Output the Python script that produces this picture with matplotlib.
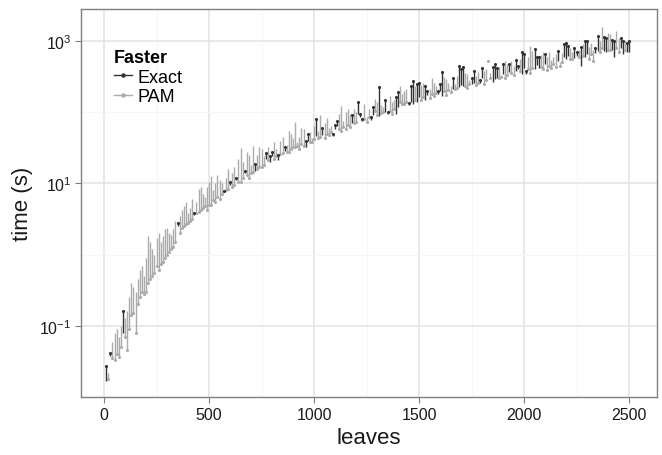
import matplotlib
matplotlib.use("Agg")
import matplotlib.pyplot as plt
import numpy as np
from matplotlib.lines import Line2D
from matplotlib.ticker import FixedLocator, NullFormatter, LogFormatterMathtext

plt.rcParams['font.family'] = ['Liberation Sans', 'DejaVu Sans']
plt.rcParams['mathtext.fontset'] = 'custom'
plt.rcParams['mathtext.rm'] = 'Liberation Sans'

# --- runs at odd multiples of ten leaves ---
leaves_a = [10, 30, 50, 70, 90, 110, 130, 150, 170, 190, 210, 230, 250, 270, 290, 310, 330, 350, 370, 390,
            410, 430, 450, 470, 490, 510, 530, 550, 570, 590, 610, 630, 650, 670, 690, 710, 730, 750, 770, 790,
            810, 830, 850, 870, 890, 910, 930, 950, 970, 990, 1010, 1030, 1050, 1070, 1090, 1110, 1130, 1150, 1170, 1190,
            1210, 1230, 1250, 1270, 1290, 1310, 1330, 1350, 1370, 1390, 1410, 1430, 1450, 1470, 1490, 1510, 1530, 1550, 1570, 1590,
            1610, 1630, 1650, 1670, 1690, 1710, 1730, 1750, 1770, 1790, 1810, 1830, 1850, 1870, 1890, 1910, 1930, 1950, 1970, 1990,
            2010, 2030, 2050, 2070, 2090, 2110, 2130, 2150, 2170, 2190, 2210, 2230, 2250, 2270, 2290, 2310, 2330, 2350, 2370, 2390,
            2410, 2430, 2450, 2470, 2490]

exact_a = [0.017, 0.038, 0.08, 0.07, 0.078, 0.16, 0.4, 0.3, 0.6, 0.5, 1.8, 1.2, 1.7, 1.5, 2.3, 2.0, 2.3, 2.5, 4.2, 5.5,
           4.5, 3.6, 8.3, 7.0, 9.0, 12.6, 10.0, 11.0, 7.5, 16, 14, 11, 31, 14, 25, 34, 25, 30, 22, 20,
           38, 21, 45, 35, 50, 72, 45, 59, 40, 44, 47, 90, 70, 60, 46, 65, 123, 100, 95, 110,
           95, 75, 85, 78, 155, 88, 120, 95, 140, 95, 235, 200, 125, 130, 140, 240, 150, 210, 260, 180,
           170, 290, 230, 250, 226, 230, 340, 250, 320, 260, 380, 540, 265, 300, 330, 525, 367, 450, 400, 345,
           345, 850, 405, 420, 700, 600, 550, 650, 500, 600, 620, 700, 620, 445, 600, 820, 750, 725, 1570, 700,
           1250, 600, 1100, 650, 700]

pam_a = [0.027, 0.042, 0.033, 0.036, 0.16, 0.045, 0.14, 0.08, 0.25, 0.28, 0.4, 0.5, 0.7, 0.75, 0.9, 1.1, 1.3, 2.8, 2.4, 2.7,
         3.0, 3.9, 4.0, 4.5, 4.2, 5.0, 5.5, 6.0, 7.9, 8.3, 9.0, 12, 10.5, 15, 12, 14.5, 16, 17, 27, 24,
         22, 25, 27, 28, 30, 32, 30, 34, 50, 38, 81, 45, 44, 48, 50, 75, 55, 58, 62, 70,
         138, 80, 72, 85, 105, 224, 100, 100, 95, 165, 138, 130, 135, 275, 250, 150, 230, 160, 170, 200,
         370, 175, 190, 210, 445, 430, 220, 300, 240, 280, 250, 525, 430, 420, 310, 300, 475, 330, 440, 700,
         380, 360, 770, 600, 400, 390, 420, 430, 450, 900, 850, 560, 700, 825, 1000, 560, 525, 1175, 800, 1100,
         760, 1000, 700, 1000, 950]

# --- runs at even multiples of ten leaves ---
leaves_b = [20, 40, 60, 80, 100, 120, 140, 160, 180, 200, 220, 240, 260, 280, 300, 320, 340, 360, 380, 400,
            420, 440, 460, 480, 500, 520, 540, 560, 580, 600, 620, 640, 660, 680, 700, 720, 740, 760, 780, 800,
            820, 840, 860, 880, 900, 920, 940, 960, 980, 1000, 1020, 1040, 1060, 1080, 1100, 1120, 1140, 1160, 1180, 1200,
            1220, 1240, 1260, 1280, 1300, 1320, 1340, 1360, 1380, 1400, 1420, 1440, 1460, 1480, 1500, 1520, 1540, 1560, 1580, 1600,
            1620, 1640, 1660, 1680, 1700, 1720, 1740, 1760, 1780, 1800, 1820, 1840, 1860, 1880, 1900, 1920, 1940, 1960, 1980, 2000,
            2020, 2040, 2060, 2080, 2100, 2120, 2140, 2160, 2180, 2200, 2220, 2240, 2260, 2280, 2300, 2320, 2340, 2360, 2380, 2400,
            2420, 2440, 2460, 2480, 2500]

exact_b = [0.022, 0.06, 0.09, 0.1, 0.13, 0.25, 0.35, 0.45, 0.7, 0.9, 1.5, 1.0, 2.0, 1.8, 2.4, 1.9, 3.0, 3.5, 4.8, 3.8,
           6.0, 5.5, 9.0, 6.5, 10.5, 8.0, 13, 10, 12, 9.5, 17, 22, 20, 28, 18, 15, 33, 24, 32, 24,
           30, 40, 29, 55, 44, 38, 60, 33, 52, 65, 55, 48, 82, 64, 58, 95, 75, 110, 70, 100,
           85, 130, 110, 90, 140, 125, 100, 170, 150, 118, 180, 210, 140, 230, 165, 260, 175, 300, 230, 200,
           310, 260, 215, 320, 240, 350, 280, 260, 370, 300, 400, 350, 290, 430, 340, 480, 520, 380, 560, 420,
           600, 720, 460, 640, 470, 700, 600, 520, 680, 560, 800, 580, 750, 900, 650, 950, 680, 1000, 720, 1300,
           750, 1400, 800, 1000, 700]

pam_b = [0.018, 0.035, 0.04, 0.05, 0.07, 0.09, 0.15, 0.2, 0.3, 0.3, 0.45, 0.55, 0.6, 0.8, 1.0, 1.2, 1.5, 2.0, 2.5, 2.8,
         3.2, 3.8, 4.2, 4.8, 5.0, 5.8, 6.5, 7.0, 8.0, 10.5, 9.5, 10.5, 12, 13, 14, 19, 17, 18, 21, 28,
         24, 26, 33, 28, 32, 34, 36, 40, 38, 42, 44, 60, 50, 52, 66, 58, 62, 66, 90, 72,
         95, 80, 85, 120, 92, 98, 150, 105, 110, 190, 130, 140, 230, 150, 260, 165, 200, 180, 185, 250,
         200, 205, 300, 220, 400, 235, 250, 380, 260, 420, 280, 300, 470, 300, 480, 330, 350, 550, 380, 650,
         400, 420, 600, 430, 650, 450, 470, 720, 500, 950, 560, 800, 600, 620, 1000, 650, 800, 700, 1150, 750,
         1050, 800, 1100, 750, 1000]

x = np.array(leaves_a + leaves_b, dtype=float)
ex = np.array(exact_a + exact_b, dtype=float)
pm = np.array(pam_a + pam_b, dtype=float)
exact_faster = ex < pm

c_exact = '#333333'
c_pam = '#ababab'

fig = plt.figure(figsize=(6.62, 4.56), dpi=100)
ax = fig.add_axes([81/662, 1-398/456, 576/662, 388/456])

ax.set_yscale('log')
ax.set_xlim(-110, 2633)
ax.set_ylim(10**-2, 10**3.45)

ax.set_axisbelow(True)
ax.xaxis.set_major_locator(FixedLocator([0, 500, 1000, 1500, 2000, 2500]))
ax.xaxis.set_minor_locator(FixedLocator([250, 750, 1250, 1750, 2250]))
ax.yaxis.set_major_locator(FixedLocator([0.1, 10, 1000]))
ax.yaxis.set_minor_locator(FixedLocator([0.01, 1, 100]))
ax.yaxis.set_major_formatter(LogFormatterMathtext())
ax.yaxis.set_minor_formatter(NullFormatter())
ax.grid(which='major', color='#e3e3e3', lw=1.1)
ax.grid(which='minor', color='#f5f5f5', lw=0.6)

for sel, col in [(~exact_faster, c_pam), (exact_faster, c_exact)]:
    ax.vlines(x[sel], ex[sel], pm[sel], colors=col, lw=1.0, zorder=3)
    ax.scatter(x[sel], pm[sel], s=5, color=col, zorder=4, linewidths=0)

for s in ax.spines.values():
    s.set_color('#7f7f7f')
    s.set_linewidth(1.0)
ax.tick_params(which='major', length=4, color='#7f7f7f', labelsize=11.5, labelcolor='#1a1a1a', pad=3)
ax.tick_params(which='minor', length=0)

ax.set_xlabel('leaves', fontsize=16, color='#1a1a1a', labelpad=4)
ax.set_ylabel('time (s)', fontsize=16, color='#1a1a1a', labelpad=4)

handles = [Line2D([0], [0], color=c_exact, lw=1.0, marker='o', markersize=2.2),
           Line2D([0], [0], color=c_pam, lw=1.0, marker='o', markersize=2.2)]
leg = ax.legend(handles, ['Exact', 'PAM'], title='Faster', loc='upper left',
                bbox_to_anchor=(0.035, 0.93), frameon=False, fontsize=13,
                title_fontsize=13, handlelength=1.0, handletextpad=0.3,
                labelspacing=0.15, borderpad=0.2)
leg.get_title().set_fontweight('bold')
leg._legend_box.align = 'left'

fig.savefig('out.png', dpi=100)
